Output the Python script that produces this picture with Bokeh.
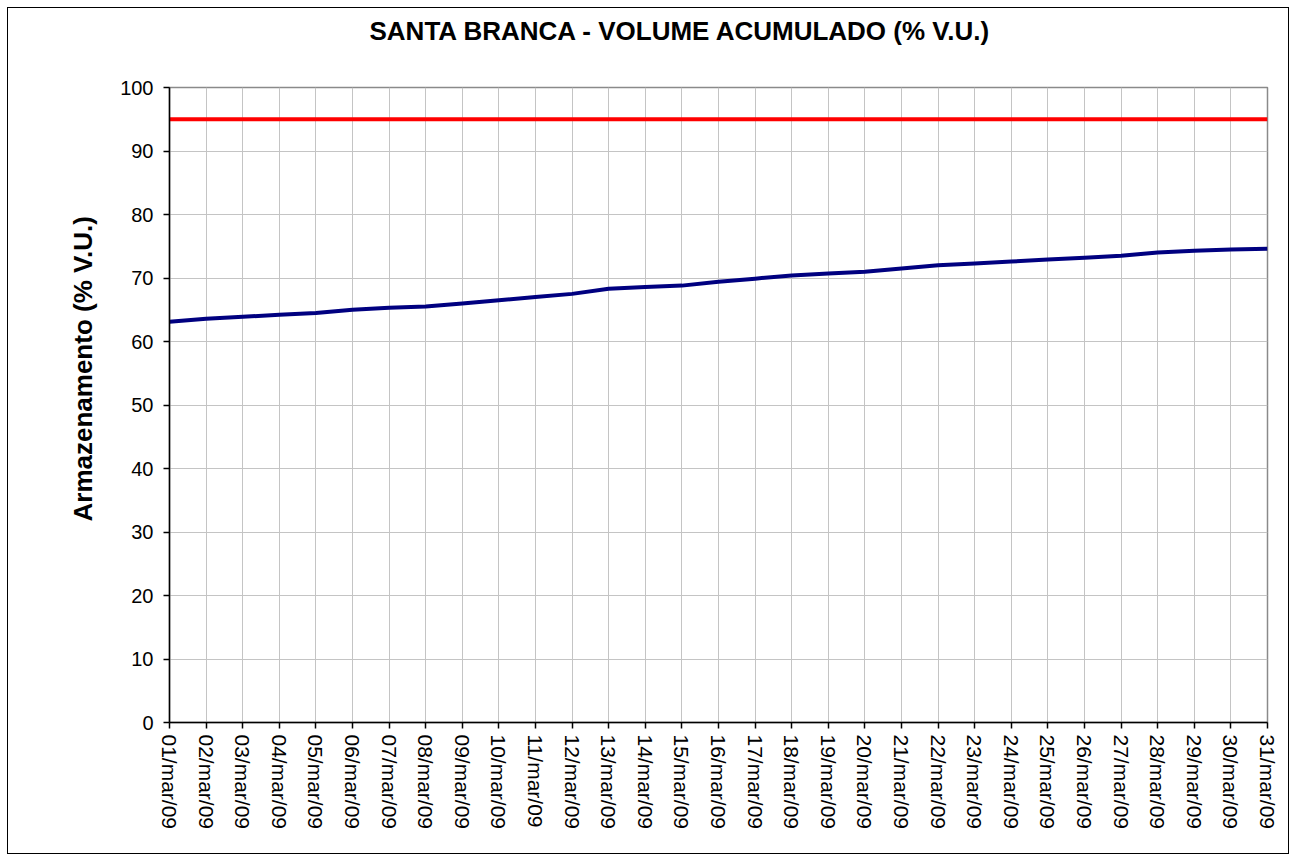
import math
from bokeh.plotting import figure
from bokeh.models import FixedTicker, Range1d, Title
from bokeh.embed import file_html
from bokeh.resources import INLINE

# ---- data ----
days = list(range(1, 32))
date_labels = ["%02d/mar/09" % d for d in days]
volume = [63.1, 63.6, 63.9, 64.2, 64.5, 65.0, 65.3, 65.5, 66.0, 66.5,
          67.0, 67.5, 68.3, 68.6, 68.8, 69.4, 69.9, 70.4, 70.7, 71.0,
          71.5, 72.0, 72.3, 72.6, 72.9, 73.2, 73.5, 74.0, 74.3, 74.5, 74.6]
limit = [95.0] * len(days)
y_ticks = [0, 10, 20, 30, 40, 50, 60, 70, 80, 90, 100]
title_text = "SANTA BRANCA - VOLUME ACUMULADO (% V.U.)"
ylabel_text = "Armazenamento (% V.U.)"

FONT = "Liberation Sans"

p = figure(width=1282, height=847, output_backend="svg", toolbar_location=None,
           x_range=Range1d(days[0], days[-1]), y_range=Range1d(0, 100),
           min_border_left=161, min_border_right=23, min_border_top=79,
           min_border_bottom=133)
p.styles = {"margin": "7px 0 0 7px", "border": "1px solid #000000"}
p.background_fill_color = "white"
p.border_fill_color = "white"
p.outline_line_color = "#8a8a8a"
p.outline_line_width = 1.5

# spacer between frame and title (closest to the frame), then the title
spacer = Title(text=" ", text_font_size="1px", standoff=34)
p.add_layout(spacer, "above")
main_title = Title(text=title_text, align="left", offset=200, text_font=FONT,
                   text_font_style="bold", text_font_size="26px", text_color="black")
p.add_layout(main_title, "above")

# y-axis label as a left-side title so it can be offset along the axis
ytitle = Title(text=ylabel_text, align="left", offset=201, text_font=FONT,
               text_font_style="bold", text_font_size="26px", text_color="black",
               standoff=40)
p.add_layout(ytitle, "left")

# grid
p.xgrid.ticker = FixedTicker(ticks=days)
p.ygrid.ticker = FixedTicker(ticks=y_ticks)
p.xgrid.grid_line_color = "#c4c4c4"
p.ygrid.grid_line_color = "#c4c4c4"
p.xgrid.grid_line_width = 1
p.ygrid.grid_line_width = 1

# axes
p.xaxis.ticker = FixedTicker(ticks=days)
p.xaxis.major_label_overrides = {d: lbl for d, lbl in zip(days, date_labels)}
p.xaxis.major_label_orientation = -math.pi / 2
p.yaxis.ticker = FixedTicker(ticks=y_ticks)
for ax in (p.xaxis[0], p.yaxis[0]):
    ax.axis_line_color = "black"
    ax.axis_line_width = 1.5
    ax.major_tick_line_color = "black"
    ax.major_tick_line_width = 1.5
    ax.major_tick_in = 0
    ax.major_tick_out = 6
    ax.minor_tick_line_color = None
    ax.major_label_text_font = FONT
    ax.major_label_text_color = "black"
p.xaxis.major_label_text_font_size = "21px"
p.yaxis.major_label_text_font_size = "20px"
p.xaxis.major_label_standoff = 6
p.yaxis.major_label_standoff = 10

# lines
p.line(days, limit, line_color="#ff0000", line_width=4)
p.line(days, volume, line_color="#000080", line_width=4)

open("out.html", "w").write(file_html(p, INLINE))
